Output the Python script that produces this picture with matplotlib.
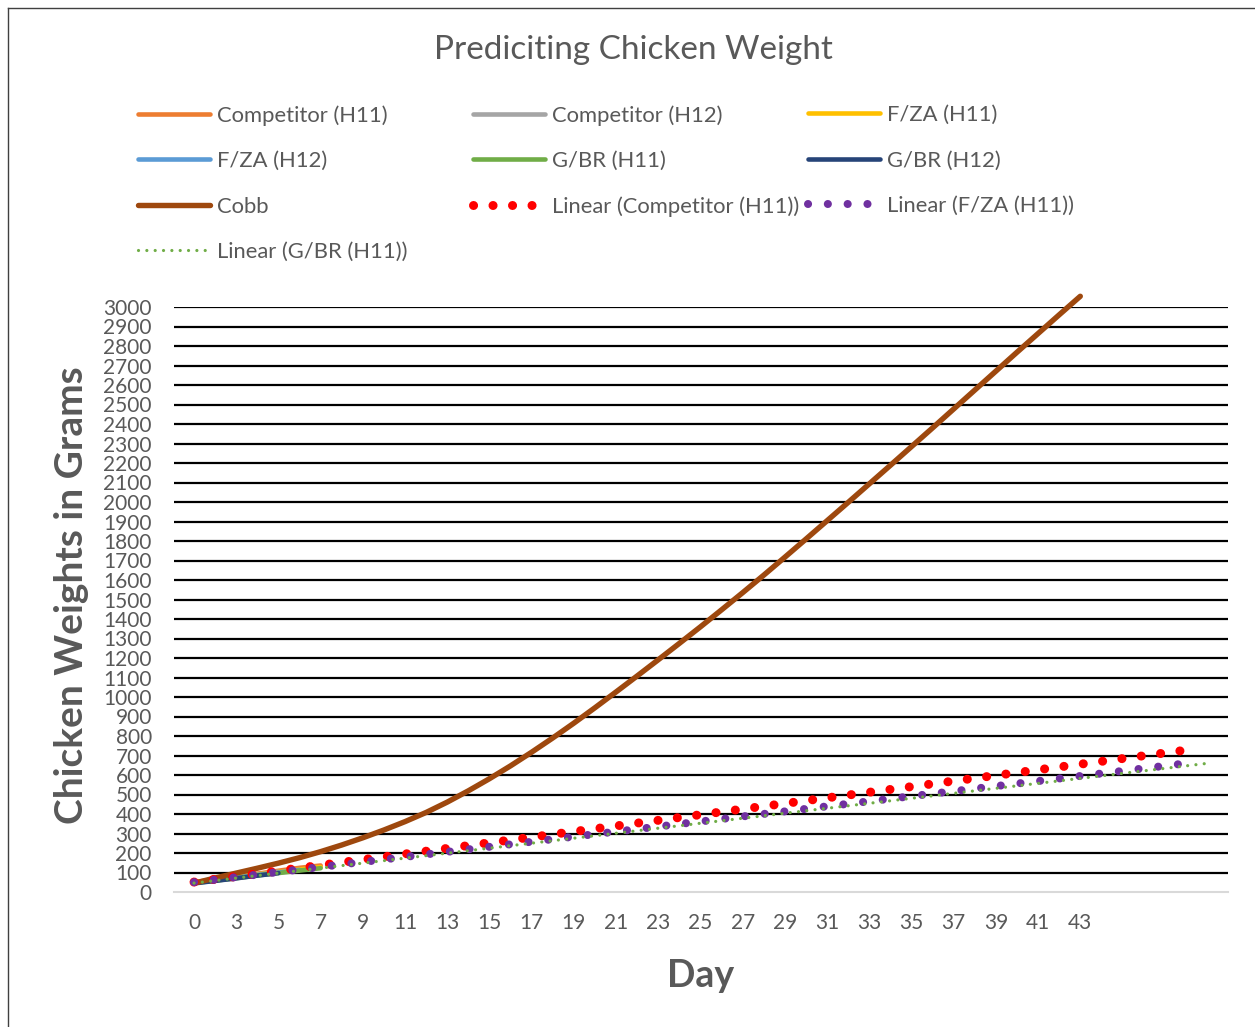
import numpy as np
import matplotlib
matplotlib.use("Agg")
import matplotlib.pyplot as plt
from matplotlib.lines import Line2D

# ---------------- data ----------------
days = [0] + list(range(2, 44))          # category labels (43 categories)
cobb = [45, 72, 97, 122, 148, 176, 207, 241, 278, 318, 361, 408, 461, 519,
        581, 647, 717, 790, 866, 945, 1026, 1108, 1191, 1275, 1360, 1447,
        1535, 1625, 1717, 1810, 1904, 1998, 2093, 2188, 2284, 2380, 2477,
        2574, 2671, 2768, 2864, 2960, 3055]
comp_h11 = [50, 66, 80, 94, 109, 124, 136]
comp_h12 = [48, 62, 76, 90, 104]
fza_h11 = [50, 63, 77, 90, 102, 115, 128]
fza_h12 = [47, 60, 74, 88, 100, 113]
gbr_h11 = [46, 58, 71, 85, 97, 110, 122]
gbr_h12 = [44, 57, 70, 84, 97]
trend_end = {"comp": 47.2, "fza": 47.2, "gbr": 48.0}   # forecast extent (category index)

TXT = "#595959"
plt.rcParams["font.family"] = ["Lato", "DejaVu Sans"]

fig = plt.figure(figsize=(12.55, 10.27), dpi=100)
W, H = 1255, 1027
ax = fig.add_axes([174 / W, 1 - 892 / H, (1228 - 174) / W, (892 - 307) / H])

def idx(n):
    return np.arange(n)

# data series
series = [
    ("Competitor (H11)", comp_h11, "#ED7D31"),
    ("Competitor (H12)", comp_h12, "#A5A5A5"),
    ("F/ZA (H11)", fza_h11, "#FFC000"),
    ("F/ZA (H12)", fza_h12, "#5B9BD5"),
    ("G/BR (H11)", gbr_h11, "#70AD47"),
    ("G/BR (H12)", gbr_h12, "#264478"),
]
h = {}
for name, vals, col in series:
    ln, = ax.plot(idx(len(vals)), vals, color=col, lw=3.3, solid_capstyle="round", zorder=3)
    h[name] = ln
ln, = ax.plot(idx(len(cobb)), cobb, color="#9E480E", lw=3.9, solid_capstyle="round",
              solid_joinstyle="round", zorder=4, clip_on=False)
h["Cobb"] = ln

# linear trendlines (fit on data, forecast forward)
def trend(vals, end):
    k, b = np.polyfit(idx(len(vals)), vals, 1)
    x = np.array([0.0, end])
    return x, k * x + b

x, y = trend(comp_h11, trend_end["comp"])
ln, = ax.plot(x, y, color="#FF0000", lw=6.5, linestyle=(0, (0.01, 2.15)),
              dash_capstyle="round", zorder=5)
h["Linear (Competitor (H11))"] = ln
x, y = trend(fza_h11, trend_end["fza"])
ln, = ax.plot(x, y, color="#7030A0", lw=5.8, linestyle=(0, (0.01, 2.45)),
              dash_capstyle="round", zorder=6)
h["Linear (F/ZA (H11))"] = ln
x, y = trend(gbr_h11, trend_end["gbr"])
ln, = ax.plot(x, y, color="#70AD47", lw=2.3, linestyle=(0, (0.01, 2.6)),
              dash_capstyle="round", zorder=7)
h["Linear (G/BR (H11))"] = ln

# axes styling
ax.set_xlim(-0.95, 49.0)
ax.set_ylim(0, 3000)
ax.set_yticks(np.arange(0, 3001, 100))
ax.set_yticklabels([str(v) for v in range(0, 3001, 100)], fontsize=15, color=TXT)
ticks = list(range(0, len(days), 2))
ax.set_xticks(ticks)
ax.set_xticklabels([str(days[i]) for i in ticks], fontsize=15, color=TXT)
ax.tick_params(axis="both", length=0)
ax.tick_params(axis="x", pad=15)
ax.tick_params(axis="y", pad=16)
for s in ["top", "right", "left"]:
    ax.spines[s].set_visible(False)
ax.spines["bottom"].set_color("#D9D9D9")
ax.spines["bottom"].set_linewidth(1.5)
for v in range(100, 3001, 100):
    ax.axhline(v, color="black", lw=1.6, zorder=1)

ax.set_xlabel("Day", fontsize=27, fontweight="bold", color=TXT, labelpad=19)
ax.set_ylabel("Chicken Weights in Grams", fontsize=28, fontweight="bold", color=TXT)
ax.yaxis.set_label_coords((89 - 174) / (1228 - 174), (892 - 595) / (892 - 307))

fig.text(633 / W, 1 - 50 / H, "Prediciting Chicken Weight", fontsize=24, color=TXT,
         ha="center", va="center")

# legend: three columns, row-wise order like the original
cols = [
    ["Competitor (H11)", "F/ZA (H12)", "Cobb", "Linear (G/BR (H11))"],
    ["Competitor (H12)", "G/BR (H11)", "Linear (Competitor (H11))"],
    ["F/ZA (H11)", "G/BR (H12)", "Linear (F/ZA (H11))"],
]
xs = [138, 473, 808]
for cx, names in zip(xs, cols):
    leg = fig.legend([h[n] for n in names], names, loc="upper left",
                     bbox_to_anchor=(cx / W, 1 - 105 / H), frameon=False,
                     fontsize=15.8, handlelength=3.3, handletextpad=0.28,
                     labelspacing=1.16, borderpad=0, borderaxespad=0)
    for t in leg.get_texts():
        t.set_color(TXT)

# chart border (cropped)
fig.add_artist(Line2D([8 / W, 8 / W], [0, 1 - 8 / H], color="#404040", lw=1.0))
fig.add_artist(Line2D([8 / W, 1], [1 - 8 / H, 1 - 8 / H], color="#404040", lw=1.0))

fig.savefig("out.png", dpi=100)
